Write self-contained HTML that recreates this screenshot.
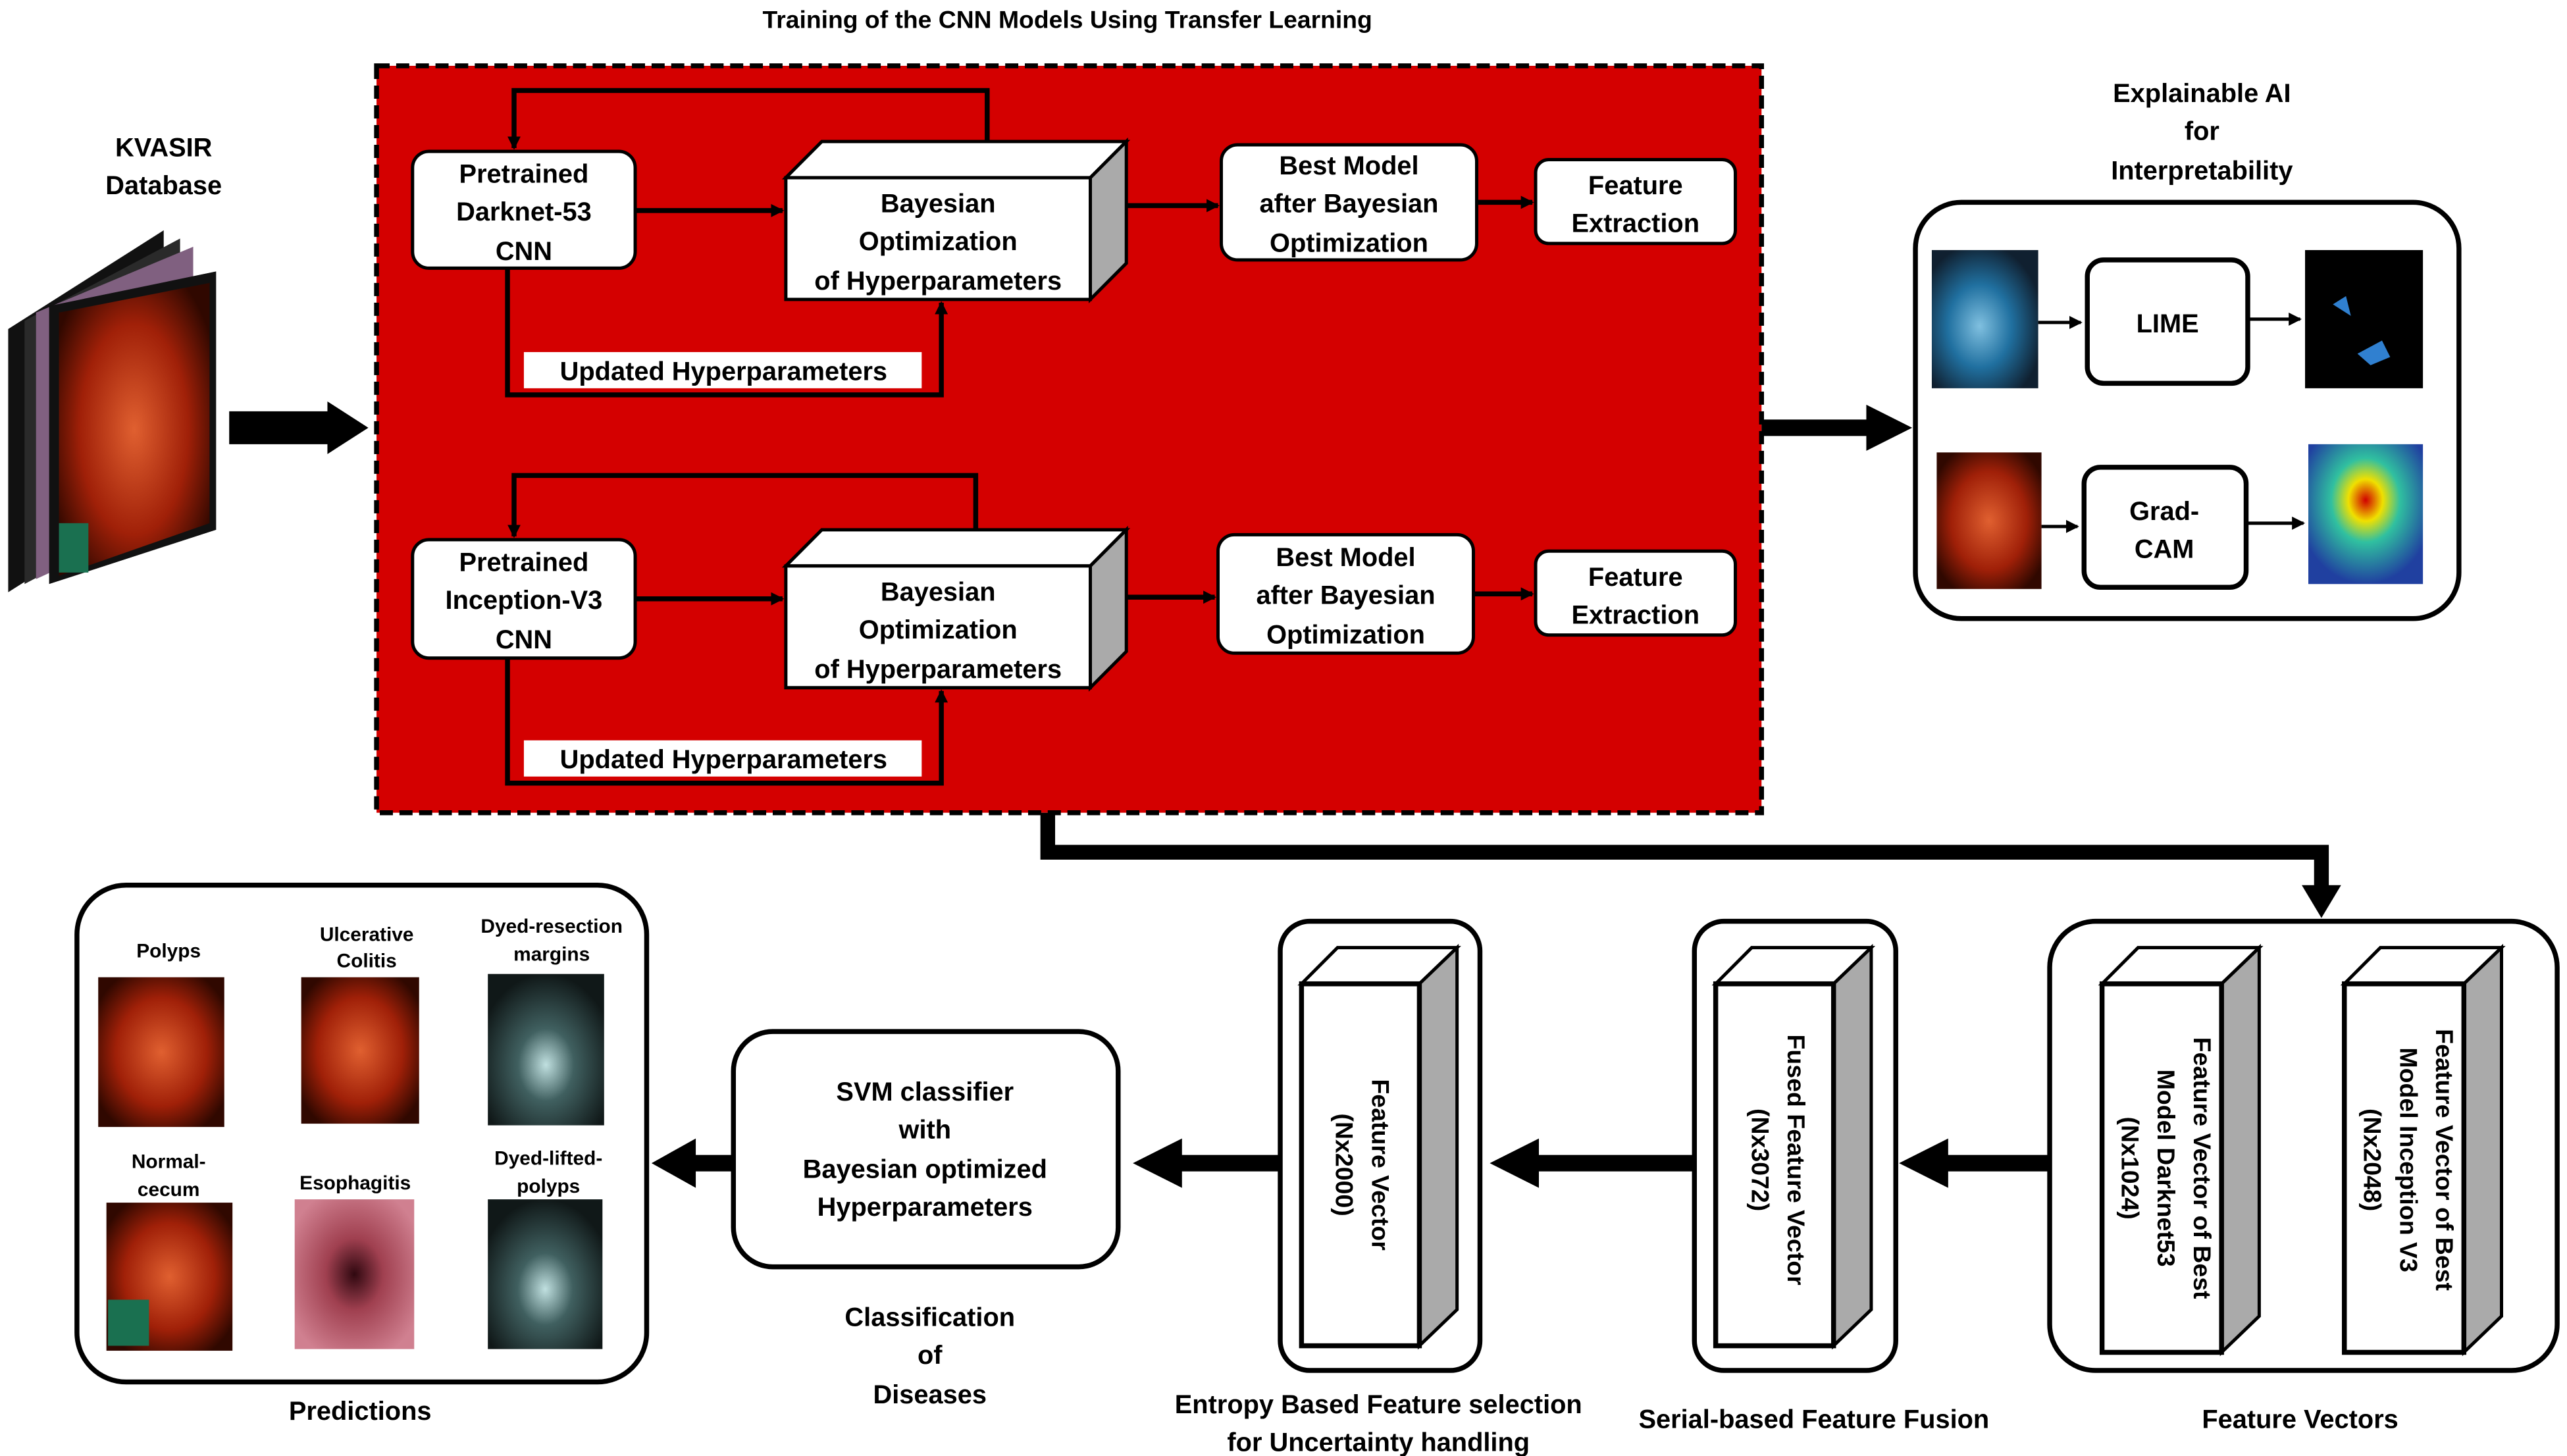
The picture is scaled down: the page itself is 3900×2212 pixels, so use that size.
<!DOCTYPE html>
<html><head><meta charset="utf-8"><style>
html,body{margin:0;padding:0;background:#fff}
svg{display:block}
text{font-family:"Liberation Sans",Arial,sans-serif;font-weight:bold;fill:#000}
</style></head><body>
<svg width="3900" height="2212" viewBox="0 0 1568 885" preserveAspectRatio="none" xmlns="http://www.w3.org/2000/svg">
<defs>
<marker id="a" markerWidth="8" markerHeight="8" refX="7" refY="4" orient="auto" markerUnits="userSpaceOnUse"><path d="M0,0 L8,4 L0,8 z" fill="#000"/></marker>
<radialGradient id="endo" cx="0.5" cy="0.5" r="0.6"><stop offset="0" stop-color="#e06030"/><stop offset="0.6" stop-color="#a02008"/><stop offset="1" stop-color="#300800"/></radialGradient>
<radialGradient id="heat" cx="0.5" cy="0.4" r="0.6"><stop offset="0" stop-color="#d00000"/><stop offset="0.25" stop-color="#f0e000"/><stop offset="0.5" stop-color="#30c0a0"/><stop offset="1" stop-color="#2040a0"/></radialGradient>
<radialGradient id="blue" cx="0.45" cy="0.55" r="0.6"><stop offset="0" stop-color="#80c0e0"/><stop offset="0.5" stop-color="#2070a0"/><stop offset="1" stop-color="#102030"/></radialGradient>
<radialGradient id="pink" cx="0.5" cy="0.5" r="0.6"><stop offset="0" stop-color="#300810"/><stop offset="0.4" stop-color="#a04050"/><stop offset="1" stop-color="#d08090"/></radialGradient>
<radialGradient id="dye" cx="0.5" cy="0.6" r="0.6"><stop offset="0" stop-color="#c0e0e0"/><stop offset="0.4" stop-color="#406060"/><stop offset="1" stop-color="#101818"/></radialGradient>
</defs>

<text x="652" y="17" font-size="15" text-anchor="middle">Training of the CNN Models Using Transfer Learning</text>

<!-- red box -->
<rect x="230" y="40" width="846" height="454" fill="#d40000" stroke="#000" stroke-width="3" stroke-dasharray="8,4"/>

<g id="row">
<!-- feedback -->
<polyline points="603,86 603,55 314,55 314,90" fill="none" stroke="#000" stroke-width="3" marker-end="url(#a)"/>
<polyline points="310,163 310,240 575,240 575,184" fill="none" stroke="#000" stroke-width="3" marker-end="url(#a)"/>
<rect x="252" y="92" width="136" height="71" rx="10" fill="#fff" stroke="#000" stroke-width="2"/>
<text x="320" y="111" font-size="16" text-anchor="middle">Pretrained</text>
<text x="320" y="134" font-size="16" text-anchor="middle">Darknet-53</text>
<text x="320" y="158" font-size="16" text-anchor="middle">CNN</text>
<line x1="388" y1="128" x2="478" y2="128" stroke="#000" stroke-width="3" marker-end="url(#a)"/>
<polygon points="480,108 502,86 688,86 666,108" fill="#fff" stroke="#000" stroke-width="2"/>
<polygon points="666,108 688,86 688,160 666,182" fill="#aaa" stroke="#000" stroke-width="2"/>
<rect x="480" y="108" width="186" height="74" fill="#fff" stroke="#000" stroke-width="2"/>
<text x="573" y="129" font-size="16" text-anchor="middle">Bayesian</text>
<text x="573" y="152" font-size="16" text-anchor="middle">Optimization</text>
<text x="573" y="176" font-size="16" text-anchor="middle">of Hyperparameters</text>
<line x1="688" y1="125" x2="744" y2="125" stroke="#000" stroke-width="3" marker-end="url(#a)"/>
<rect x="746" y="88" width="156" height="70" rx="10" fill="#fff" stroke="#000" stroke-width="2"/>
<text x="824" y="106" font-size="16" text-anchor="middle">Best Model</text>
<text x="824" y="129" font-size="16" text-anchor="middle">after Bayesian</text>
<text x="824" y="153" font-size="16" text-anchor="middle">Optimization</text>
<line x1="902" y1="123" x2="936" y2="123" stroke="#000" stroke-width="3" marker-end="url(#a)"/>
<rect x="938" y="97" width="122" height="51" rx="8" fill="#fff" stroke="#000" stroke-width="2"/>
<text x="999" y="118" font-size="16" text-anchor="middle">Feature</text>
<text x="999" y="141" font-size="16" text-anchor="middle">Extraction</text>
<rect x="320" y="214" width="243" height="22" fill="#fff"/>
<text x="442" y="231" font-size="16" text-anchor="middle">Updated Hyperparameters</text>
</g>

<g transform="translate(0,236)">
<polyline points="596,86 596,53 314,53 314,90" fill="none" stroke="#000" stroke-width="3" marker-end="url(#a)"/>
<polyline points="310,163 310,240 575,240 575,184" fill="none" stroke="#000" stroke-width="3" marker-end="url(#a)"/>
<rect x="252" y="92" width="136" height="72" rx="10" fill="#fff" stroke="#000" stroke-width="2"/>
<text x="320" y="111" font-size="16" text-anchor="middle">Pretrained</text>
<text x="320" y="134" font-size="16" text-anchor="middle">Inception-V3</text>
<text x="320" y="158" font-size="16" text-anchor="middle">CNN</text>
<line x1="388" y1="128" x2="478" y2="128" stroke="#000" stroke-width="3" marker-end="url(#a)"/>
<polygon points="480,108 502,86 688,86 666,108" fill="#fff" stroke="#000" stroke-width="2"/>
<polygon points="666,108 688,86 688,160 666,182" fill="#aaa" stroke="#000" stroke-width="2"/>
<rect x="480" y="108" width="186" height="74" fill="#fff" stroke="#000" stroke-width="2"/>
<text x="573" y="129" font-size="16" text-anchor="middle">Bayesian</text>
<text x="573" y="152" font-size="16" text-anchor="middle">Optimization</text>
<text x="573" y="176" font-size="16" text-anchor="middle">of Hyperparameters</text>
<line x1="688" y1="127" x2="742" y2="127" stroke="#000" stroke-width="3" marker-end="url(#a)"/>
<rect x="744" y="89" width="156" height="72" rx="10" fill="#fff" stroke="#000" stroke-width="2"/>
<text x="822" y="108" font-size="16" text-anchor="middle">Best Model</text>
<text x="822" y="131" font-size="16" text-anchor="middle">after Bayesian</text>
<text x="822" y="155" font-size="16" text-anchor="middle">Optimization</text>
<line x1="900" y1="125" x2="936" y2="125" stroke="#000" stroke-width="3" marker-end="url(#a)"/>
<rect x="938" y="99" width="122" height="51" rx="8" fill="#fff" stroke="#000" stroke-width="2"/>
<text x="999" y="120" font-size="16" text-anchor="middle">Feature</text>
<text x="999" y="143" font-size="16" text-anchor="middle">Extraction</text>
<rect x="320" y="214" width="243" height="22" fill="#fff"/>
<text x="442" y="231" font-size="16" text-anchor="middle">Updated Hyperparameters</text>
</g>

<!-- KVASIR -->
<text x="100" y="95" font-size="16" text-anchor="middle">KVASIR</text>
<text x="100" y="118" font-size="16" text-anchor="middle">Database</text>
<polygon points="5,200 100,140 100,300 5,360" fill="#111"/>
<polygon points="15,195 110,145 110,305 15,355" fill="#2a2a2a"/>
<polygon points="22,190 118,150 118,308 22,352" fill="#806080"/>
<polygon points="30,186 132,165 132,322 30,355" fill="#111"/>
<polygon points="36,190 128,172 128,318 36,350" fill="url(#endo)"/>
<rect x="36" y="318" width="18" height="30" fill="#1a7050"/>
<polygon points="140,250 200,250 200,244 225,260 200,276 200,270 140,270" fill="#000"/>
<polygon points="1076,255 1140,255 1140,246 1168,260 1140,274 1140,265 1076,265" fill="#000"/>

<!-- XAI -->
<text x="1345" y="62" font-size="16" text-anchor="middle">Explainable AI</text>
<text x="1345" y="85" font-size="16" text-anchor="middle">for</text>
<text x="1345" y="109" font-size="16" text-anchor="middle">Interpretability</text>
<rect x="1170" y="123" width="332" height="253" rx="28" fill="#fff" stroke="#000" stroke-width="3"/>
<rect x="1180" y="152" width="65" height="84" fill="url(#blue)"/>
<line x1="1245" y1="196" x2="1271" y2="196" stroke="#000" stroke-width="2" marker-end="url(#a)"/>
<rect x="1275" y="158" width="98" height="75" rx="10" fill="#fff" stroke="#000" stroke-width="3"/>
<text x="1324" y="202" font-size="16" text-anchor="middle">LIME</text>
<line x1="1373" y1="194" x2="1405" y2="194" stroke="#000" stroke-width="2" marker-end="url(#a)"/>
<rect x="1408" y="152" width="72" height="84" fill="#000"/>
<path d="M1425,185 l8,-5 l3,12 z M1440,215 l15,-8 l5,10 l-12,5 z" fill="#3080d0"/>
<rect x="1183" y="275" width="64" height="83" fill="url(#endo)"/>
<line x1="1247" y1="320" x2="1269" y2="320" stroke="#000" stroke-width="2" marker-end="url(#a)"/>
<rect x="1273" y="284" width="99" height="73" rx="10" fill="#fff" stroke="#000" stroke-width="3"/>
<text x="1322" y="316" font-size="16" text-anchor="middle">Grad-</text>
<text x="1322" y="339" font-size="16" text-anchor="middle">CAM</text>
<line x1="1372" y1="318" x2="1407" y2="318" stroke="#000" stroke-width="2" marker-end="url(#a)"/>
<rect x="1410" y="270" width="70" height="85" fill="url(#heat)"/>

<!-- connector down -->
<polyline points="640,494 640,518 1418,518 1418,540" fill="none" stroke="#000" stroke-width="9"/>
<polygon points="1406,538 1430,538 1418,558" fill="#000"/>

<!-- Feature vectors -->
<rect x="1252" y="560" width="310" height="273" rx="28" fill="#fff" stroke="#000" stroke-width="3"/>
<g>
<polygon points="1284,598 1306,576 1380,576 1357,598" fill="#fff" stroke="#000" stroke-width="2"/>
<polygon points="1357,598 1380,576 1380,800 1357,822" fill="#aaa" stroke="#000" stroke-width="2"/>
<rect x="1284" y="598" width="73" height="224" fill="#fff" stroke="#000" stroke-width="3"/>
<text transform="translate(1340,710) rotate(90)" font-size="15" text-anchor="middle">Feature Vector  of Best</text>
<text transform="translate(1318,710) rotate(90)" font-size="15" text-anchor="middle">Model  Darknet53</text>
<text transform="translate(1296,710) rotate(90)" font-size="15" text-anchor="middle">(Nx1024)</text>
</g>
<g>
<polygon points="1432,598 1454,576 1528,576 1505,598" fill="#fff" stroke="#000" stroke-width="2"/>
<polygon points="1505,598 1528,576 1528,800 1505,822" fill="#aaa" stroke="#000" stroke-width="2"/>
<rect x="1432" y="598" width="73" height="224" fill="#fff" stroke="#000" stroke-width="3"/>
<text transform="translate(1488,705) rotate(90)" font-size="15" text-anchor="middle">Feature Vector  of Best</text>
<text transform="translate(1466,705) rotate(90)" font-size="15" text-anchor="middle">Model  Inception V3</text>
<text transform="translate(1444,705) rotate(90)" font-size="15" text-anchor="middle">(Nx2048)</text>
</g>
<text x="1405" y="868" font-size="16" text-anchor="middle">Feature Vectors</text>

<!-- fusion -->
<rect x="1035" y="560" width="123" height="273" rx="18" fill="#fff" stroke="#000" stroke-width="3"/>
<polygon points="1048,598 1070,576 1143,576 1120,598" fill="#fff" stroke="#000" stroke-width="2"/>
<polygon points="1120,598 1143,576 1143,796 1120,818" fill="#aaa" stroke="#000" stroke-width="2"/>
<rect x="1048" y="598" width="72" height="220" fill="#fff" stroke="#000" stroke-width="3"/>
<text transform="translate(1092,705) rotate(90)" font-size="15" text-anchor="middle">Fused Feature Vector</text>
<text transform="translate(1070,705) rotate(90)" font-size="15" text-anchor="middle">(Nx3072)</text>
<text x="1108" y="868" font-size="16" text-anchor="middle">Serial-based Feature Fusion</text>

<!-- entropy -->
<rect x="782" y="560" width="122" height="273" rx="18" fill="#fff" stroke="#000" stroke-width="3"/>
<polygon points="795,598 817,576 890,576 867,598" fill="#fff" stroke="#000" stroke-width="2"/>
<polygon points="867,598 890,576 890,796 867,818" fill="#aaa" stroke="#000" stroke-width="2"/>
<rect x="795" y="598" width="72" height="220" fill="#fff" stroke="#000" stroke-width="3"/>
<text transform="translate(838,708) rotate(90)" font-size="15" text-anchor="middle">Feature Vector</text>
<text transform="translate(816,708) rotate(90)" font-size="15" text-anchor="middle">(Nx2000)</text>
<text x="842" y="859" font-size="16" text-anchor="middle">Entropy Based Feature selection</text>
<text x="842" y="882" font-size="16" text-anchor="middle">for Uncertainty handling</text>

<!-- SVM -->
<rect x="448" y="627" width="235" height="143" rx="24" fill="#fff" stroke="#000" stroke-width="3"/>
<text x="565" y="669" font-size="16" text-anchor="middle">SVM classifier</text>
<text x="565" y="692" font-size="16" text-anchor="middle">with</text>
<text x="565" y="716" font-size="16" text-anchor="middle">Bayesian optimized</text>
<text x="565" y="739" font-size="16" text-anchor="middle">Hyperparameters</text>
<text x="568" y="806" font-size="16" text-anchor="middle">Classification</text>
<text x="568" y="829" font-size="16" text-anchor="middle">of</text>
<text x="568" y="853" font-size="16" text-anchor="middle">Diseases</text>

<!-- thick left arrows -->
<polygon points="1252,702 1190,702 1190,692 1160,707 1190,722 1190,712 1252,712" fill="#000"/>
<polygon points="1035,702 940,702 940,692 910,707 940,722 940,712 1035,712" fill="#000"/>
<polygon points="782,702 722,702 722,692 692,707 722,722 722,712 782,712" fill="#000"/>
<polygon points="448,702 425,702 425,692 398,707 425,722 425,712 448,712" fill="#000"/>

<!-- predictions -->
<rect x="47" y="538" width="348" height="302" rx="30" fill="#fff" stroke="#000" stroke-width="3"/>
<text x="103" y="582" font-size="12" text-anchor="middle">Polyps</text>
<text x="224" y="572" font-size="12" text-anchor="middle">Ulcerative</text>
<text x="224" y="588" font-size="12" text-anchor="middle">Colitis</text>
<text x="337" y="567" font-size="12" text-anchor="middle">Dyed-resection</text>
<text x="337" y="584" font-size="12" text-anchor="middle">margins</text>
<rect x="60" y="594" width="77" height="91" fill="url(#endo)"/>
<rect x="184" y="594" width="72" height="89" fill="url(#endo)"/>
<rect x="298" y="592" width="71" height="92" fill="url(#dye)"/>
<text x="103" y="710" font-size="12" text-anchor="middle">Normal-</text>
<text x="103" y="727" font-size="12" text-anchor="middle">cecum</text>
<text x="217" y="723" font-size="12" text-anchor="middle">Esophagitis</text>
<text x="335" y="708" font-size="12" text-anchor="middle">Dyed-lifted-</text>
<text x="335" y="725" font-size="12" text-anchor="middle">polyps</text>
<rect x="65" y="731" width="77" height="90" fill="url(#endo)"/>
<rect x="66" y="790" width="25" height="28" fill="#1a7050"/>
<rect x="180" y="729" width="73" height="91" fill="url(#pink)"/>
<rect x="298" y="729" width="70" height="91" fill="url(#dye)"/>
<text x="220" y="863" font-size="16" text-anchor="middle">Predictions</text>
</svg>
</body></html>
